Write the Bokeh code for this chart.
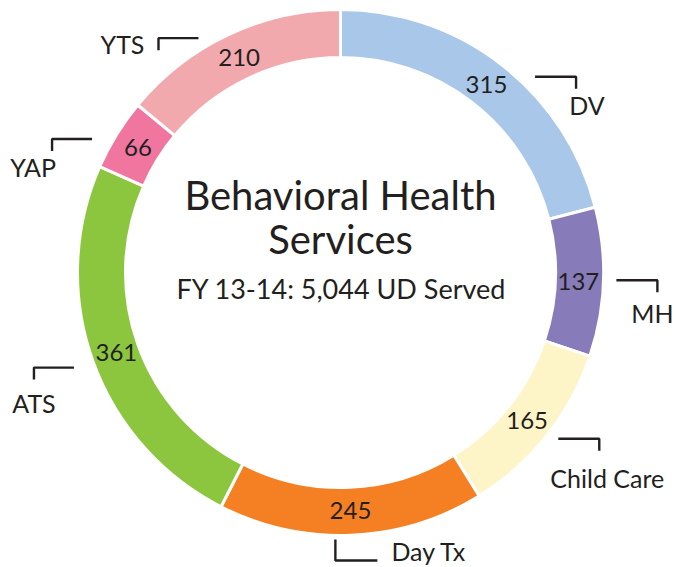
import math
from bokeh.plotting import figure
from bokeh.models import Range1d, ColumnDataSource
from bokeh.embed import file_html
from bokeh.resources import INLINE
from bokeh.core.properties import value

# ---- data ----
categories = ["DV", "MH", "Child Care", "Day Tx", "ATS", "YAP", "YTS"]
counts = [315, 137, 165, 245, 361, 66, 210]
colors = ["#a9c7e8", "#877cb9", "#fdf5c8", "#f58024", "#8cc63e", "#f076a0", "#f2a9ae"]
title_lines = ["Behavioral Health", "Services"]
subtitle = "FY 13-14: 5,044 UD Served"

# ---- layout / styling (page pixel space, y downward converted below) ----
CX, CY = 340, 272
R_IN, R_OUT, R_LBL = 215, 263, 238
FONT = "Lato"
TXT = "#231f20"
# leader: angular nudge (deg) from slice middle, anchor radius, bracket shape, label offset from anchor
leader_cfg = {
    "DV":         dict(nudge=-7.0, r=276, shape="R", off=(52, 28), align="center"),
    "MH":         dict(nudge=0.5,  r=276, shape="R", off=(36, 33), align="center"),
    "Child Care": dict(nudge=1.0,  r=274, shape="R", off=(49, 39), align="center"),
    "Day Tx":     dict(nudge=-3.5, r=267, shape="D", off=(56, 12), align="left"),
    "ATS":        dict(nudge=0.0,  r=283, shape="L", off=(-40, 35), align="center"),
    "YAP":        dict(nudge=3.4,  r=282, shape="L", off=(-59, 28), align="center"),
    "YTS":        dict(nudge=6.0,  r=274, shape="L", off=(-76, 6), align="center"),
}

W, H = 676, 567
p = figure(width=W, height=H, x_range=Range1d(0, W), y_range=Range1d(-H, 0),
           output_backend="svg", toolbar_location=None, min_border=0,
           x_axis_location=None, y_axis_location=None)
p.grid.visible = False
p.outline_line_color = None
p.background_fill_color = "white"
p.border_fill_color = "white"

total = sum(counts)
starts, ends, mids = [], [], []
cum = 0
for c in counts:
    a0 = math.pi / 2 - 2 * math.pi * cum / total
    cum += c
    a1 = math.pi / 2 - 2 * math.pi * cum / total
    starts.append(a0)
    ends.append(a1)
    mids.append((a0 + a1) / 2)

src = ColumnDataSource(dict(start=starts, end=ends, color=colors, cat=categories))
p.annular_wedge(x=CX, y=-CY, inner_radius=R_IN, outer_radius=R_OUT,
                start_angle="start", end_angle="end", direction="clock",
                fill_color="color", line_color="white", line_width=3, source=src)

# value labels
lx = [CX + R_LBL * math.cos(m) for m in mids]
ly = [-CY + R_LBL * math.sin(m) for m in mids]
p.text(x=lx, y=ly, text=[str(c) for c in counts], text_font=value(FONT),
       text_font_size="24px", text_color=TXT, text_align="center", text_baseline="middle")

# leader brackets and category names
xs, ys = [], []
for cat, m in zip(categories, mids):
    cfg = leader_cfg[cat]
    a = m + math.radians(cfg["nudge"])
    ax = CX + cfg["r"] * math.cos(a)
    ay = CY - cfg["r"] * math.sin(a)  # page y (down)
    if cfg["shape"] == "R":
        px = [ax, ax + 41, ax + 41]
        py = [ay, ay, ay + 12]
    elif cfg["shape"] == "L":
        px = [ax, ax - 40, ax - 40]
        py = [ay, ay, ay + 12]
    else:  # down then right
        px = [ax, ax, ax + 42]
        py = [ay, ay + 21, ay + 21]
    xs.append(px)
    ys.append([-v for v in py])
    p.text(x=[ax + cfg["off"][0]], y=[-(ay + cfg["off"][1])], text=[cat],
           text_font=value(FONT), text_font_size="25px", text_color=TXT,
           text_align=cfg["align"], text_baseline="middle")
p.multi_line(xs=xs, ys=ys, line_color=TXT, line_width=2.4)

# centre titles
p.text(x=[CX, CX], y=[-194, -238], text=title_lines, text_font=value(FONT),
       text_font_size="40px", text_color=TXT, text_align="center", text_baseline="middle")
p.text(x=[CX + 1], y=[-288], text=[subtitle], text_font=value(FONT),
       text_font_size="27px", text_color=TXT, text_align="center", text_baseline="middle")

open("out.html", "w").write(file_html(p, INLINE))
